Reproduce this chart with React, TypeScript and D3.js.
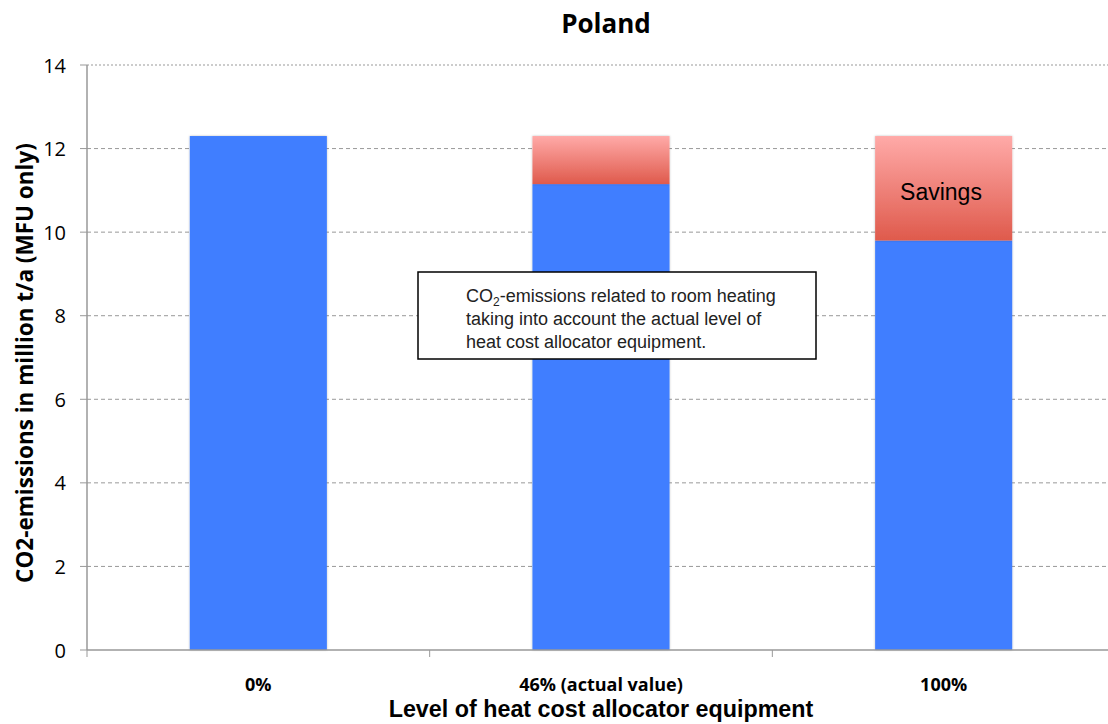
import React from "react";
import * as d3 from "d3";

const categories = ["0%", "46% (actual value)", "100%"];
const emissions = [12.3, 11.15, 9.8];
const savings = [0, 1.15, 2.5];
const yTicks = [0, 2, 4, 6, 8, 10, 12, 14];

export default function App() {
  const W = 1108, H = 724;
  const left = 87, right = 1115, top = 65, bottom = 650;
  const x = d3.scaleBand<string>().domain(categories).range([left, right]).paddingInner(0.6).paddingOuter(0.3);
  const xOuter = d3.scaleBand<string>().domain(categories).range([left, right]);
  const y = d3.scaleLinear().domain([0, 14]).range([bottom, top]);
  const sans = "'Open Sans', sans-serif";
  const helv = "'Liberation Sans', Arial, sans-serif";

  return (
    <svg width={W} height={H} style={{ position: "absolute", left: 0, top: 0, background: "#fff" }}>
      <defs>
        <linearGradient id="sav" x1="0" y1="0" x2="0" y2="1">
          <stop offset="0%" stopColor="#ffaaa8" />
          <stop offset="100%" stopColor="#df5a4c" />
        </linearGradient>
        <filter id="sh" x="-5%" y="-5%" width="110%" height="110%">
          <feDropShadow dx="0" dy="0" stdDeviation="1.2" floodColor="#000" floodOpacity="0.25" />
        </filter>
      </defs>
      <text x={606} y={33} textAnchor="middle" fontFamily={sans} fontWeight="bold" fontSize={26}>Poland</text>
      {yTicks.map((t) => (
        <g key={t}>
          {t > 0 && (
            <line x1={left} x2={W} y1={y(t)} y2={y(t)} stroke="#999" strokeWidth={1} strokeDasharray={t === 14 ? "2,2" : "4,3"} />
          )}
          <line x1={left - 7} x2={left} y1={y(t)} y2={y(t)} stroke="#999" />
          <text x={left - 21} y={y(t) + 7.5} textAnchor="end" fontFamily={sans} fontSize={20}>{t}</text>
        </g>
      ))}
      {categories.map((c, i) => (
        <g key={c}>
          <rect x={x(c)} y={y(emissions[i])} width={x.bandwidth()} height={y(0) - y(emissions[i])} fill="#3f7eff" filter="url(#sh)" />
          {savings[i] > 0 && (
            <rect x={x(c)} y={y(emissions[i] + savings[i])} width={x.bandwidth()} height={y(emissions[i]) - y(emissions[i] + savings[i])} fill="url(#sav)" filter="url(#sh)" />
          )}
          <text x={(x(c) as number) + x.bandwidth() / 2} y={691} textAnchor="middle" fontFamily={sans} fontWeight="bold" fontSize={18}>{c}</text>
        </g>
      ))}
      <line x1={left} x2={left} y1={top} y2={bottom} stroke="#999" strokeWidth={1.5} />
      <line x1={left} x2={W} y1={bottom} y2={bottom} stroke="#999" strokeWidth={1.5} />
      {categories.map((c) => (
        <line key={"t" + c} x1={xOuter(c)} x2={xOuter(c)} y1={bottom} y2={bottom + 7} stroke="#999" />
      ))}
      <text x={941} y={200} textAnchor="middle" fontFamily={helv} fontSize={23}>Savings</text>
      <rect x={418} y={272} width={398} height={87} fill="#fff" stroke="#000" strokeWidth={1.5} />
      <text fontFamily={helv} fontSize={18} fill="#222">
        <tspan x={466} y={302}>CO</tspan>
        <tspan fontSize={12} dy={4}>2</tspan>
        <tspan dy={-4}>-emissions related to room heating</tspan>
        <tspan x={466} y={325}>taking into account the actual level of</tspan>
        <tspan x={466} y={348}>heat cost allocator equipment.</tspan>
      </text>
      <text transform={`translate(33,363) rotate(-90)`} textAnchor="middle" fontFamily={sans} fontWeight="bold" fontSize={22.5}>CO2-emissions in million t/a (MFU only)</text>
      <text x={601} y={717} textAnchor="middle" fontFamily={helv} fontWeight="bold" fontSize={23.3}>Level of heat cost allocator equipment</text>
    </svg>
  );
}
